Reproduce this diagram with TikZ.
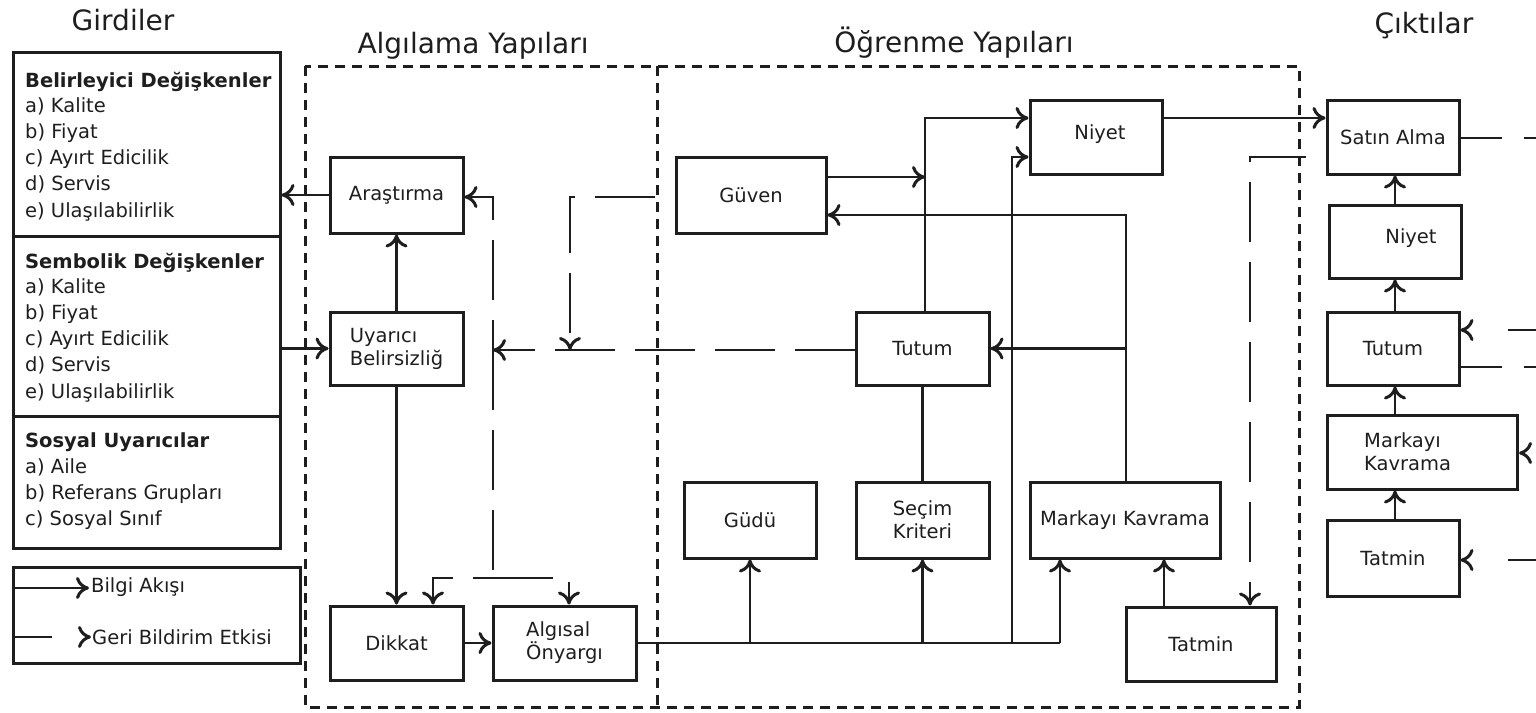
\documentclass[tikz,border=0pt]{standalone}
\usepackage{fontspec}
\setmainfont{DejaVu Sans}
\usetikzlibrary{arrows.meta,calc}
\definecolor{inkc}{HTML}{1E1E1E}
\newcommand\bxfont{\fontsize{19.5}{23}\selectfont}
\newcommand\ttlfont{\fontsize{28}{32}\selectfont}
\begin{document}
\begin{tikzpicture}[x=1pt,y=-1pt,
  >={Computer Modern Rightarrow[length=13pt,width=22pt,line width=3pt]},
  ink/.style={draw=inkc,line width=2.7pt},
  flow/.style={ink,->},
  fbk/.style={ink,->,dash pattern=on 60pt off 20pt},
  fbline/.style={ink,dash pattern=on 60pt off 20pt},
  frame/.style={draw=inkc,line width=3pt,dash pattern=on 10pt off 7pt},
  box/.style={draw=inkc,line width=3pt,fill=white,inner sep=0pt,text=inkc,font=\bxfont,align=left},
  lbl/.style={inner sep=0pt,text=inkc,font=\bxfont,align=left},
  lst/.style={inner sep=0pt,text=inkc,font=\bxfont,anchor=base west},
  ttl/.style={inner sep=0pt,text=inkc,font=\ttlfont,anchor=base},
]
\useasboundingbox (0,0) rectangle (1536,712);
\fill[white] (0,0) rectangle (1536,712);

% titles
\node[ttl] (t1) at (123,30) {Girdiler};
\node[ttl] (t2) at (473,53) {Algılama Yapıları};
\node[ttl] (t3) at (954,52) {Öğrenme Yapıları};
\node[ttl] (t4) at (1424,33) {Çıktılar};

% dashed frames: outer outline and the shared divider
\draw[frame] (305,66) rectangle (1299,707);
\draw[frame] (657,66) -- (657,707);

% inputs panel
\node[draw=inkc,line width=3pt,minimum width=267pt,minimum height=496pt,inner sep=0pt] (inp) at (146.5,300) {};
\draw[ink,line width=3pt] (inp.west |- 0,236) -- (inp.east |- 0,236);
\draw[ink,line width=3pt] (inp.west |- 0,416) -- (inp.east |- 0,416);
\node[lst,font=\bxfont\bfseries] (bh) at (25,87) {Belirleyici Değişkenler};
\foreach \t [count=\i] in {a) Kalite,b) Fiyat,c) Ayırt Edicilik,d) Servis,e) Ulaşılabilirlik}
  \node[lst] (b\i) at (25,{112+(\i-1)*26.3}) {\t};
\node[lst,font=\bxfont\bfseries] (sh) at (25,268) {Sembolik Değişkenler};
\foreach \t [count=\i] in {a) Kalite,b) Fiyat,c) Ayırt Edicilik,d) Servis,e) Ulaşılabilirlik}
  \node[lst] (s\i) at (25,{293+(\i-1)*26.3}) {\t};
\node[lst,font=\bxfont\bfseries] (uh) at (25,447) {Sosyal Uyarıcılar};
\foreach \t [count=\i] in {a) Aile,b) Referans Grupları,c) Sosyal Sınıf}
  \node[lst] (u\i) at (25,{473+(\i-1)*26.3}) {\t};

% legend
\node[draw=inkc,line width=3pt,minimum width=287pt,minimum height=96pt,inner sep=0pt] (leg) at (156.5,615) {};
\coordinate (l1) at (89,588);
\coordinate (l2) at (91,637);
\draw[flow] (leg.west |- l1) -- (l1);
\node[lbl,anchor=west] (lt1) at (91,587) {Bilgi Akışı};
\draw[ink,->,dash pattern=on 40pt off 60pt] (leg.west |- l2) -- (l2);
\node[lbl,anchor=west] (lt2) at (92,637) {Geri Bildirim Etkisi};

% perception boxes
\node[box,minimum width=133pt,minimum height=76pt] (ara) at (396.5,195) {Araştırma};
\node[box,minimum width=133pt,minimum height=73pt] (uya) at (396.5,348.5) {Uyarıcı\\Belirsizliğ};
\node[box,minimum width=133pt,minimum height=74pt] (dik) at (396.5,643) {Dikkat};
\node[box,minimum width=143pt,minimum height=74pt] (alg) at (564.5,643) {Algısal\\Önyargı};

% learning boxes
\node[box,minimum width=150pt,minimum height=76pt] (guv) at (751,195) {Güven};
\node[box,minimum width=132pt,minimum height=74pt] (niy) at (1096,137) {};
\node[lbl] (niyt) at (1100,134) {Niyet};
\node[box,minimum width=133pt,minimum height=73pt] (tut) at (922.5,348.5) {Tutum};
\node[box,minimum width=132pt,minimum height=76pt] (gud) at (750,520) {Güdü};
\node[box,minimum width=133pt,minimum height=76pt] (sec) at (922.5,520) {Seçim\\Kriteri};
\node[box,minimum width=190pt,minimum height=76pt] (mkv) at (1125,520) {Markayı Kavrama};
\node[box,minimum width=150pt,minimum height=74pt] (tat) at (1201,644) {Tatmin};

% output boxes
\node[box,minimum width=132pt,minimum height=74pt] (sat) at (1393,137) {Satın Alma};
\node[box,minimum width=132pt,minimum height=73pt] (oniy) at (1395,241.5) {};
\node[lbl] (oniyt) at (1411,238) {Niyet};
\node[box,minimum width=132pt,minimum height=73pt] (otut) at (1393,348.5) {Tutum};
\node[box,minimum width=190pt,minimum height=74pt] (omkv) at (1422.5,452) {};
\node[lbl,anchor=west] (omkvt) at ($(omkv.west)+(38,0)$) {Markayı\\Kavrama};
\node[box,minimum width=132pt,minimum height=76pt] (otat) at (1393,558.5) {Tatmin};

% information flow: perception
\draw[flow] (ara.west) -- (ara.west -| inp.east);
\draw[flow] (inp.east |- uya.west) -- (uya.west);
\draw[flow] (uya.north) -- (ara.south);
\draw[flow] (uya.south) -- (dik.north);
\draw[flow] (dik.east) -- (alg.west);

% information flow: bus from perceptual bias
\coordinate (nv) at (1012,157);
\coordinate (mb) at (1060,0);
\draw[ink] (alg.east) -- (alg.east -| mb);
\draw[flow] (gud.south |- alg.east) -- (gud.south);
\draw[flow] (sec.south |- alg.east) -- (sec.south);
\draw[flow] (mb |- alg.east) -- (mb |- mkv.south);
\draw[flow] (nv |- alg.east) -- (nv) -- (nv -| niy.west);

% information flow: learning
\coordinate (tn) at (925,118);
\coordinate (gj) at (925,177);
\coordinate (mg) at (1126,215);
\coordinate (tm) at (1164,0);
\draw[flow] (tn |- tut.north) -- (tn) -- (tn -| niy.west);
\draw[flow] (gj -| guv.east) -- (gj);
\draw[flow] (mg |- mkv.north) -- (mg) -- (mg -| guv.east);
\draw[flow] (mg |- tut.east) -- (tut.east);
\draw[ink] (sec.north) -- (sec.north |- tut.south);
\draw[flow] (tm |- tat.north) -- (tm |- mkv.south);
\draw[flow] (niy.east |- tn) -- (sat.west |- tn);

% information flow: outputs
\draw[flow] (oniy.north) -- (oniy.north |- sat.south);
\draw[flow] (oniy.south |- otut.north) -- (oniy.south);
\draw[flow] (oniy.south |- omkv.north) -- (oniy.south |- otut.south);
\draw[flow] (oniy.south |- otat.north) -- (oniy.south |- omkv.south);

% feedback effects
\coordinate (ga) at (570,197);
\coordinate (gb) at (570,350);
\coordinate (fa) at (493,350);
\coordinate (fb) at (493,197);
\coordinate (fc) at (493,578);
\coordinate (fd) at (433,578);
\coordinate (fe) at (569,578);
\coordinate (sa) at (1250,157);
\draw[fbk,dash phase=60pt] (guv.west |- ga) -- (ga) -- (gb);
\draw[fbk] (tut.west |- fa) -- (fa);
\draw[fbk,dash phase=30pt] (fa) -- (fb) -- (fb -| ara.east);
\draw[fbline] (fa) -- (fc);
\draw[fbk,dash phase=40pt] (fc) -- (fd) -- (fd |- dik.north);
\draw[fbk] (fc) -- (fe) -- (fe |- alg.north);
\draw[fbk,dash phase=60pt] (sat.west |- sa) -- (sa) -- (sa |- tat.north);

% feedback links leaving the outputs
\coordinate (e1) at (1536,138);
\coordinate (e2) at (1536,330);
\coordinate (e3) at (1536,367);
\coordinate (e4) at (1600,453);
\coordinate (e5) at (1536,560);
\draw[ink,dash pattern=on 41pt off 22pt] (sat.east |- e1) -- (e1);
\draw[ink,->,dash pattern=on 28pt off 60pt] (e2) -- (e2 -| otut.east);
\draw[ink,dash pattern=on 41pt off 22pt] (otut.east |- e3) -- (e3);
\draw[ink,->,dash pattern=on 30pt off 100pt] (e4) -- (e4 -| omkv.east);
\draw[ink,->,dash pattern=on 28pt off 60pt] (e5) -- (e5 -| otat.east);
\end{tikzpicture}
\end{document}
